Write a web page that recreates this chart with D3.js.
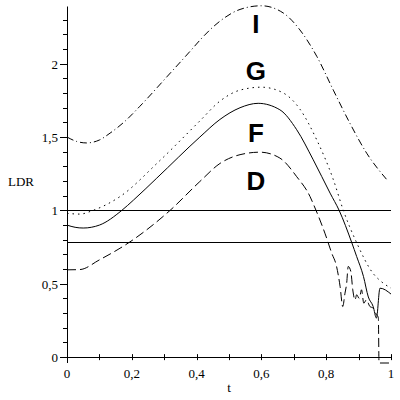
<!DOCTYPE html>
<html>
<head>
<meta charset="utf-8">
<script src="https://cdn.jsdelivr.net/npm/d3@7"></script>
<style>
  body { margin: 0; background: #fff; }
  svg { display: block; }
</style>
</head>
<body>
<svg id="chart"></svg>
<script>
/*=================
=== The data
=================*/
var iT = [0, 0.03, 0.06, 0.10, 0.133, 0.18, 0.225, 0.308, 0.39, 0.41, 0.472, 0.534, 0.60, 0.668, 0.719, 0.771, 0.822, 0.873, 0.925, 0.987];
var iV = [1.50, 1.47, 1.46, 1.48, 1.527, 1.61, 1.71, 1.91, 2.11, 2.16, 2.29, 2.37, 2.395, 2.345, 2.23, 2.05, 1.82, 1.595, 1.39, 1.21];

var gT = [0, 0.04, 0.08, 0.164, 0.282, 0.41, 0.472, 0.534, 0.60, 0.668, 0.719, 0.771, 0.822, 0.853, 0.894, 0.945, 0.97, 1.0];
var gV = [0.98, 0.975, 1.0, 1.095, 1.33, 1.61, 1.745, 1.82, 1.84, 1.80, 1.69, 1.48, 1.21, 1.0, 0.78, 0.57, 0.515, 0.47];

var fT = [0, 0.025, 0.05, 0.10, 0.169, 0.205, 0.277, 0.41, 0.472, 0.534, 0.59, 0.657, 0.709, 0.76, 0.812, 0.84, 0.879, 0.894, 0.915, 0.93, 0.945, 0.955, 0.966, 1.0];
var fV = [0.90, 0.885, 0.88, 0.90, 1.0, 1.07, 1.22, 1.50, 1.62, 1.70, 1.73, 1.686, 1.55, 1.345, 1.118, 1.0, 0.78, 0.686, 0.55, 0.41, 0.345, 0.266, 0.47, 0.43];

var dT = [0, 0.04, 0.10, 0.194, 0.246, 0.318, 0.41, 0.472, 0.534, 0.596, 0.657, 0.709, 0.75, 0.761, 0.796, 0.817, 0.832, 0.843, 0.851, 0.858, 0.863, 0.868, 0.876, 0.882, 0.889, 0.894, 0.902, 0.909, 0.916, 0.924, 0.935, 0.945, 0.955, 0.961, 0.963, 1.0];
var dV = [0.595, 0.597, 0.663, 0.785, 0.868, 1.0, 1.197, 1.32, 1.38, 1.397, 1.357, 1.23, 1.095, 1.04, 0.845, 0.709, 0.618, 0.48, 0.345, 0.436, 0.50, 0.618, 0.584, 0.459, 0.39, 0.425, 0.40, 0.459, 0.368, 0.39, 0.345, 0.334, 0.29, 0.27, -0.04, -0.04];

var refLevels = [1, 0.785];

var xTickValues = [0, 0.2, 0.4, 0.6, 0.8, 1];
var xTickLabels = ['0', '0,2', '0,4', '0,6', '0,8', '1'];
var yTickValues = [0, 0.5, 1, 1.5, 2];
var yTickLabels = ['0', '0,5', '1', '1,5', '2'];

var labelNames = ['I', 'G', 'F', 'D'];
var labelV = [2.21, 1.89, 1.465, 1.14];
var labelT = 0.583;

/*=================
=== The vars
=================*/
var width = 400, height = 400;
var serif = 'Liberation Serif, DejaVu Serif, serif';
var svg = d3.select('#chart').attr('width', width).attr('height', height);

var x = d3.scaleLinear().domain([0, 1]).range([67, 391]);
var y = d3.scaleLinear().domain([-0.04, 2.39]).range([363, 6.5]);

var line = d3.line()
	.curve(d3.curveMonotoneX)
	.x(function (d) { return x(d[0]); })
	.y(function (d) { return y(d[1]); });

function pairs(ts, vs) {
	return ts.map(function (t, i) { return [t, vs[i]]; });
}

/*=================
=== Axes
=================*/
var g = svg.append('g').attr('stroke', '#000').attr('fill', 'none');

// y axis, runs a little below zero like the original
g.append('line')
	.attr('x1', x(0) + 0.5).attr('x2', x(0) + 0.5)
	.attr('y1', y(2.39)).attr('y2', y(-0.04));
// x axis
g.append('line')
	.attr('x1', x(0)).attr('x2', x(1))
	.attr('y1', Math.round(y(0)) + 0.5).attr('y2', Math.round(y(0)) + 0.5);

var minor = d3.range(1, 24).map(function (i) { return i / 10; });
g.selectAll('.ytick').data(minor).enter().append('line')
	.attr('x1', x(0) - 4).attr('x2', x(0))
	.attr('y1', function (d) { return Math.round(y(d)) + 0.5; })
	.attr('y2', function (d) { return Math.round(y(d)) + 0.5; });
g.selectAll('.ymajor').data(yTickValues).enter().append('line')
	.attr('x1', x(0) - 7).attr('x2', x(0))
	.attr('y1', function (d) { return Math.round(y(d)) + 0.5; })
	.attr('y2', function (d) { return Math.round(y(d)) + 0.5; });

var xminor = d3.range(1, 11).map(function (i) { return i / 10; });
g.selectAll('.xtick').data(xminor).enter().append('line')
	.attr('x1', function (d) { return Math.round(x(d)) + 0.5; })
	.attr('x2', function (d) { return Math.round(x(d)) + 0.5; })
	.attr('y1', y(0) - 3).attr('y2', y(0) + 3);

svg.selectAll('.xl').data(xTickValues).enter().append('text')
	.style('font-family', serif).style('font-size', '13px')
	.attr('x', function (d) { return x(d); })
	.attr('y', 378)
	.attr('text-anchor', 'middle')
	.text(function (d, i) { return xTickLabels[i]; });

svg.selectAll('.yl').data(yTickValues).enter().append('text')
	.style('font-family', serif).style('font-size', '13px')
	.attr('x', 58)
	.attr('y', function (d) { return y(d) + 5; })
	.attr('text-anchor', 'end')
	.text(function (d, i) { return yTickLabels[i]; });

svg.append('text').style('font-family', serif).style('font-size', '13px')
	.attr('x', 8).attr('y', 186).text('LDR');
svg.append('text').style('font-family', serif).style('font-size', '13px')
	.attr('x', 229).attr('y', 392).attr('text-anchor', 'middle').text('t');

/*=================
=== Reference lines
=================*/
g.selectAll('.ref').data(refLevels).enter().append('line')
	.attr('x1', x(0)).attr('x2', x(1))
	.attr('y1', function (d) { return Math.round(y(d)) + 0.5; })
	.attr('y2', function (d) { return Math.round(y(d)) + 0.5; });

/*=================
=== Curves
=================*/
var curves = [
	{ data: pairs(iT, iV), dash: '7,3,1,3' },
	{ data: pairs(gT, gV), dash: '1.5,4' },
	{ data: pairs(fT, fV), dash: null },
	{ data: pairs(dT, dV), dash: '9,4' }
];

curves.forEach(function (c) {
	g.append('path')
		.datum(c.data)
		.attr('d', line)
		.attr('stroke-width', 1)
		.attr('stroke-dasharray', c.dash);
});

svg.selectAll('.cl').data(labelNames).enter().append('text')
	.style('font-family', 'Liberation Sans, sans-serif')
	.style('font-weight', 'bold').style('font-size', '26px')
	.attr('x', x(labelT))
	.attr('y', function (d, i) { return y(labelV[i]); })
	.attr('text-anchor', 'middle')
	.text(function (d) { return d; });
</script>
</body>
</html>
